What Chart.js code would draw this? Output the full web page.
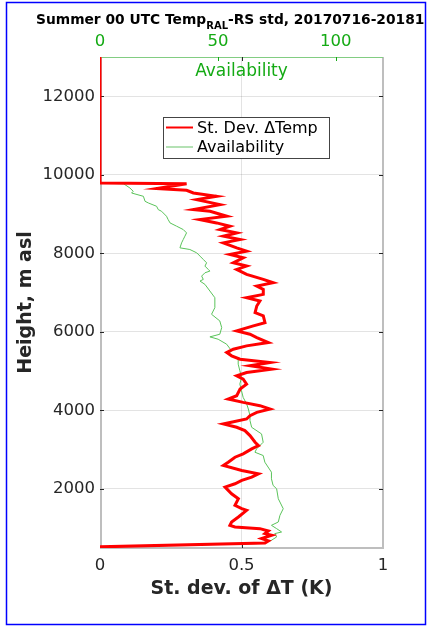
<!DOCTYPE html>
<html>
<head>
<meta charset="utf-8">
<script src="https://cdn.jsdelivr.net/npm/chart.js@4.4.1/dist/chart.umd.min.js"></script>
<style>
  html, body { margin: 0; padding: 0; background: #fff; }
  canvas { display: block; }
</style>
</head>
<body>
<canvas id="stdChart" width="427" height="626"></canvas>
<script>
// std dev of RALMO minus radiosonde temperature (K) per height level (m asl)
const stdHeights = [520, 620, 671, 730, 815, 857, 925, 984, 1026, 1069, 1153, 1280, 1450, 1492, 1577, 1746, 1873, 2042, 2127, 2212,
  2296, 2381, 2466, 2593, 2677, 2804, 2889, 3016, 3101, 3185, 3355, 3482, 3566, 3651, 3778, 3863, 3947, 4032, 4117, 4201,
  4286, 4371, 4540, 4667, 4794, 4879, 4963, 5048, 5133, 5217, 5302, 5387, 5471, 5556, 5641, 5725, 5852, 5937, 6022, 6149,
  6233, 6403, 6487, 6657, 6784, 6868, 6953, 7080, 7165, 7249, 7334, 7461, 7588, 7673, 7757, 7884, 7969, 8054, 8138, 8265,
  8350, 8435, 8519, 8604, 8689, 8773, 8858, 8943, 9070, 9112, 9239, 9366, 9451, 9535, 9603, 9650, 9772, 9790, 13000];
const stdValues = [0, 0.583, 0.595, 0.571, 0.607, 0.583, 0.595, 0.565, 0.477, 0.459, 0.465, 0.489, 0.518, 0.501, 0.477, 0.489, 0.465, 0.442, 0.477, 0.501,
  0.536, 0.560, 0.501, 0.436, 0.453, 0.477, 0.506, 0.536, 0.560, 0.548, 0.530, 0.512, 0.483, 0.436, 0.518, 0.530, 0.554, 0.601, 0.565, 0.506,
  0.453, 0.483, 0.495, 0.518, 0.506, 0.483, 0.518, 0.607, 0.530, 0.601, 0.495, 0.465, 0.448, 0.471, 0.518, 0.595, 0.554, 0.530, 0.483, 0.542,
  0.583, 0.577, 0.548, 0.554, 0.565, 0.518, 0.577, 0.577, 0.554, 0.612, 0.577, 0.518, 0.483, 0.518, 0.471, 0.506, 0.459, 0.518, 0.483, 0.436,
  0.495, 0.436, 0.483, 0.424, 0.459, 0.412, 0.353, 0.448, 0.389, 0.330, 0.424, 0.342, 0.412, 0.330, 0.306, 0.200, 0.306, 0, 0];

// data availability (%) per height level
const availHeights = [520, 603, 645, 688, 772, 857, 899, 984, 1069, 1153, 1323, 1492, 1746, 2000, 2085, 2254, 2423, 2677, 2847, 2931,
  3016, 3185, 3397, 3566, 3736, 3863, 4032, 4159, 4328, 4498, 4667, 4836, 5006, 5175, 5302, 5344, 5429, 5514, 5683, 5810,
  5870, 5937, 6106, 6276, 6445, 6614, 6868, 7038, 7207, 7292, 7334, 7419, 7503, 7546, 7588, 7673, 7757, 7842, 7927, 8011,
  8096, 8138, 8265, 8350, 8435, 8519, 8604, 8689, 8773, 8858, 8943, 9070, 9112, 9197, 9281, 9324, 9451, 9535, 9578, 9662,
  9747, 9772, 9785, 13000];
const availValues = [0, 66.4, 70.6, 72.7, 74.9, 74.1, 77.0, 74.9, 72.7, 75.6, 76.3, 77.7, 75.6, 74.9, 73.4, 72.7, 72.7, 69.9, 69.2, 65.7,
  66.4, 69.2, 68.5, 64.3, 63.6, 63.6, 62.9, 62.2, 60.7, 60.0, 59.3, 60.0, 59.3, 58.6, 58.6, 57.2, 54.4, 55.8, 53.7, 50.1,
  46.6, 50.8, 51.6, 50.8, 47.3, 48.7, 48.7, 46.6, 44.5, 42.4, 43.8, 43.1, 44.5, 46.6, 45.9, 44.5, 45.2, 43.8, 42.4, 41.0,
  38.1, 33.9, 34.6, 35.3, 36.0, 36.7, 35.3, 32.5, 29.7, 28.9, 28.2, 26.1, 24.7, 24.0, 20.5, 19.1, 18.4, 13.4, 14.1, 12.7,
  10.6, 9.9, 0, 0];

const heightTicks = [2000, 4000, 6000, 8000, 10000, 12000];
const stdTicks = [0, 0.5, 1];
const availTicks = [0, 50, 100];

const FONT = '"DejaVu Sans", sans-serif';
const GREEN = 'rgb(20,170,20)';
const DARK = '#262626';

const toPoints = (xs, ys) => ys.map((h, i) => ({ x: xs[i], y: h }));
const plain = v => String(v);

// axes box, inward ticks, title, inner labels, legend and figure border
const decorations = {
  id: 'decorations',
  beforeDatasetsDraw(chart) {
    const { ctx, chartArea: a, scales } = chart;
    ctx.save();
    ctx.strokeStyle = 'rgb(190,190,190)';
    ctx.lineWidth = 2;
    ctx.beginPath();
    ctx.moveTo(a.left + 1, a.top);
    ctx.lineTo(a.left + 1, a.bottom);
    ctx.lineTo(a.right, a.bottom);
    ctx.lineTo(a.right, a.top);
    ctx.stroke();
    ctx.strokeStyle = 'rgb(130,205,130)';
    ctx.lineWidth = 1;
    ctx.beginPath();
    ctx.moveTo(a.left, a.top + 0.5);
    ctx.lineTo(a.right, a.top + 0.5);
    ctx.stroke();

    ctx.strokeStyle = DARK;
    ctx.lineWidth = 1;
    ctx.beginPath();
    heightTicks.forEach(v => {
      const y = Math.round(scales.y.getPixelForValue(v)) + 0.5;
      ctx.moveTo(a.left, y); ctx.lineTo(a.left + 4, y);
      ctx.moveTo(a.right, y); ctx.lineTo(a.right - 4, y);
    });
    const xm = Math.round(scales.x.getPixelForValue(0.5)) + 0.5;
    ctx.moveTo(xm, a.bottom); ctx.lineTo(xm, a.bottom - 4);
    ctx.moveTo(xm, a.top); ctx.lineTo(xm, a.top + 4);
    ctx.stroke();
    ctx.strokeStyle = GREEN;
    ctx.beginPath();
    availTicks.slice(1).forEach(v => {
      const x = Math.round(scales.x2.getPixelForValue(v)) + 0.5;
      ctx.moveTo(x, a.top); ctx.lineTo(x, a.top + 4);
    });
    ctx.stroke();
    ctx.restore();
  },
  afterDraw(chart) {
    const { ctx, chartArea: a } = chart;
    ctx.save();

    // title with subscript
    ctx.fillStyle = '#000';
    ctx.textBaseline = 'alphabetic';
    ctx.textAlign = 'left';
    let x = 36;
    ctx.font = 'bold 13.8px ' + FONT;
    ctx.fillText('Summer 00 UTC Temp', x, 24);
    x += ctx.measureText('Summer 00 UTC Temp').width;
    ctx.font = 'bold 10px ' + FONT;
    ctx.fillText('RAL', x, 29);
    x += ctx.measureText('RAL').width;
    ctx.font = 'bold 13.8px ' + FONT;
    ctx.fillText('-RS std, 20170716-20181', x, 24);

    // top axis label sits inside the plot
    ctx.fillStyle = GREEN;
    ctx.font = '17px ' + FONT;
    ctx.textAlign = 'center';
    ctx.textBaseline = 'middle';
    ctx.fillText('Availability', (a.left + a.right) / 2, a.top + 15);

    // legend
    const lx = a.left + 63, ly = a.top + 60, lw = 166, lh = 41;
    ctx.fillStyle = '#fff';
    ctx.fillRect(lx, ly, lw, lh);
    ctx.strokeStyle = '#444';
    ctx.lineWidth = 1;
    ctx.strokeRect(lx + 0.5, ly + 0.5, lw, lh);
    ctx.font = '16px ' + FONT;
    ctx.textAlign = 'left';
    chart.data.datasets.forEach((ds, i) => {
      const yy = ly + 10.5 + i * 19.5;
      ctx.strokeStyle = ds.legendColor;
      ctx.lineWidth = 2;
      ctx.beginPath();
      ctx.moveTo(lx + 3, yy);
      ctx.lineTo(lx + 30, yy);
      ctx.stroke();
      ctx.fillStyle = '#000';
      ctx.fillText(ds.label, lx + 34, yy + 1);
    });

    // figure border
    ctx.strokeStyle = 'rgb(0,0,255)';
    ctx.lineWidth = 1.5;
    ctx.strokeRect(6.5, 2.5, 419, 622);
    ctx.restore();
  }
};

new Chart(document.getElementById('stdChart'), {
  type: 'scatter',
  data: {
    datasets: [
      {
        label: 'St. Dev. \u0394Temp',
        data: toPoints(stdValues, stdHeights),
        xAxisID: 'x',
        showLine: true,
        borderColor: 'rgb(255,0,0)',
        legendColor: 'rgb(255,0,0)',
        borderWidth: 3,
        pointRadius: 0,
        tension: 0
      },
      {
        label: 'Availability',
        data: toPoints(availValues, availHeights),
        xAxisID: 'x2',
        showLine: true,
        borderColor: 'rgb(90,195,90)',
        legendColor: 'rgb(180,225,180)',
        borderWidth: 1,
        pointRadius: 0,
        tension: 0
      }
    ]
  },
  options: {
    responsive: false,
    animation: false,
    devicePixelRatio: 1,
    layout: { padding: { left: 0, right: 44, top: 0, bottom: 0 } },
    plugins: {
      legend: { display: false },
      title: { display: false },
      tooltip: { enabled: false }
    },
    scales: {
      y: {
        type: 'linear',
        position: 'left',
        min: 491,
        max: 13000,
        afterBuildTicks: s => { s.ticks = heightTicks.map(v => ({ value: v })); },
        afterFit: s => { s.width = 100; },
        grid: { color: 'rgba(38,38,38,0.13)', drawTicks: false },
        border: { display: false },
        ticks: { color: DARK, padding: 5, callback: plain, font: { family: FONT, size: 16.5 } },
        title: {
          display: true,
          text: 'Height, m asl',
          color: DARK,
          padding: { top: 15, bottom: 0 },
          font: { family: FONT, size: 19, weight: 'bold' }
        }
      },
      x: {
        type: 'linear',
        position: 'bottom',
        min: 0,
        max: 1,
        afterBuildTicks: s => { s.ticks = stdTicks.map(v => ({ value: v })); },
        afterFit: s => { s.height = 78; },
        grid: { color: 'rgba(38,38,38,0.13)', drawTicks: false },
        border: { display: false },
        ticks: { color: DARK, padding: 8, maxRotation: 0, autoSkip: false, callback: plain, font: { family: FONT, size: 16.5 } },
        title: {
          display: true,
          text: 'St. dev. of \u0394T (K)',
          color: DARK,
          padding: { top: 0, bottom: 26 },
          font: { family: FONT, size: 19, weight: 'bold' }
        }
      },
      x2: {
        type: 'linear',
        position: 'top',
        min: 0,
        max: 120,
        afterBuildTicks: s => { s.ticks = availTicks.map(v => ({ value: v })); },
        afterFit: s => { s.height = 57; },
        grid: { display: false, drawTicks: false },
        border: { display: false },
        ticks: { color: GREEN, padding: 5, maxRotation: 0, autoSkip: false, callback: plain, font: { family: FONT, size: 16.5 } }
      }
    }
  },
  plugins: [decorations]
});
</script>
</body>
</html>
